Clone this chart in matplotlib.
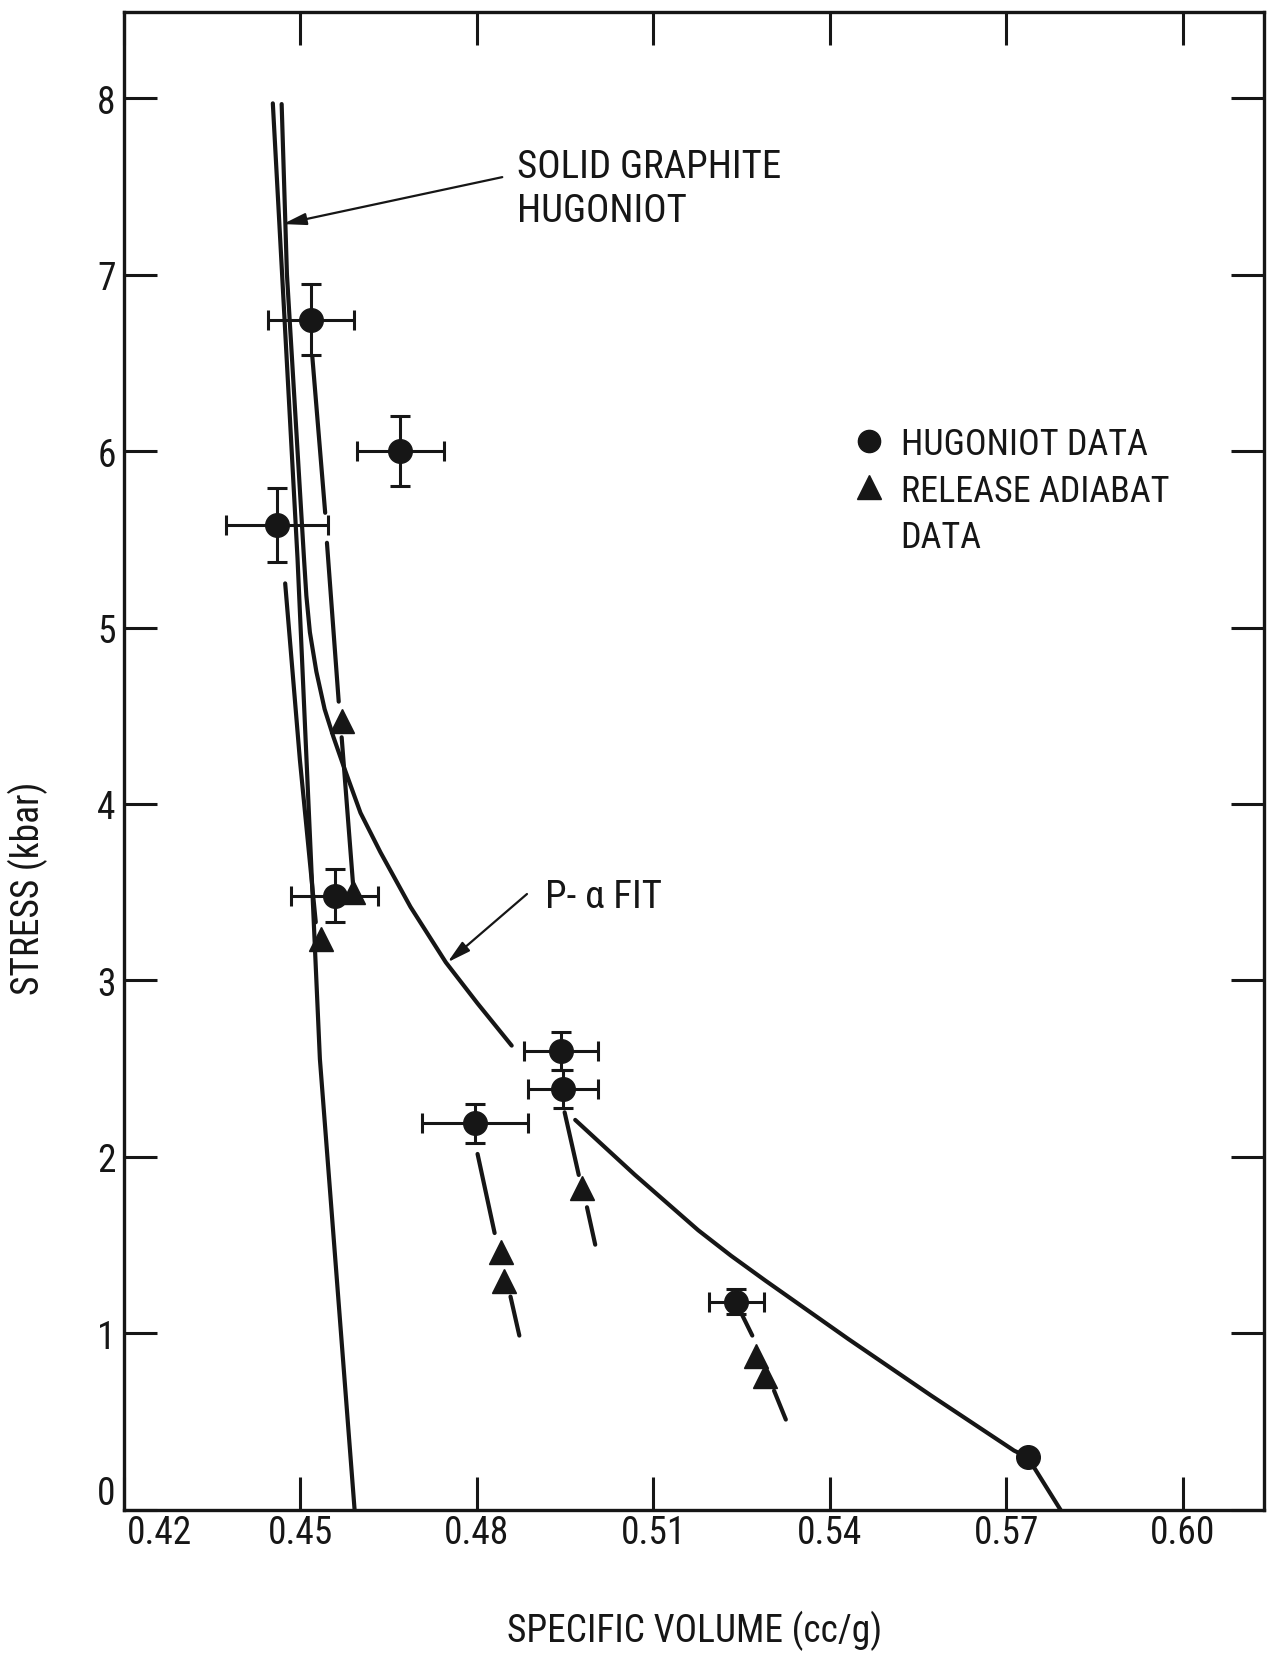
import matplotlib
matplotlib.use('Agg')
import matplotlib.pyplot as plt
import matplotlib.transforms as mtransforms

plt.rcParams['font.family'] = ['Liberation Sans Narrow', 'DejaVu Sans Condensed',
                               'Roboto Condensed', 'DejaVu Sans']
plt.rcParams['font.stretch'] = 'condensed'

INK = '#161616'
nan = float('nan')

# Hugoniot data points (specific volume cc/g, stress kbar) with error bars
hug_v = [0.4518, 0.4670, 0.4460, 0.4558, 0.4943, 0.4946, 0.4797, 0.5241, 0.5736]
hug_p = [6.745, 6.00, 5.58, 3.48, 2.60, 2.385, 2.19, 1.18, 0.30]
hug_dv = [0.0073, 0.0074, 0.0087, 0.0074, 0.0063, 0.0059, 0.0090, 0.0047, 0.0]
hug_dp = [0.20, 0.20, 0.21, 0.15, 0.11, 0.11, 0.11, 0.07, 0.0]

# release adiabat data points
rel_v = [0.4571, 0.4589, 0.4535, 0.4978, 0.4840, 0.4846, 0.5275, 0.5290]
rel_p = [4.47, 3.50, 3.235, 1.823, 1.46, 1.30, 0.874, 0.761]

# solid graphite Hugoniot
solid_v = [0.4453, 0.4495, 0.4533, 0.4592]
solid_p = [7.97, 5.39, 2.555, 0.0]

# P-alpha fit, upper and lower branches
pa_hi_v = [0.4468, 0.4477, 0.4506, 0.4510, 0.4516, 0.4527, 0.4541, 0.4556,
           0.4573, 0.4602, 0.4636, 0.4687, 0.4747, 0.4801, 0.4859]
pa_hi_p = [7.966, 7.0, 5.39, 5.18, 4.973, 4.75, 4.538, 4.38,
           4.217, 3.95, 3.726, 3.417, 3.103, 2.87, 2.631]
pa_lo_v = [0.4967, 0.5068, 0.5176, 0.5232, 0.5290, 0.5431, 0.5572, 0.5713,
           0.5736, 0.5792]
pa_lo_p = [2.21, 1.90, 1.585, 1.44, 1.30, 0.969, 0.648, 0.336, 0.299, 0.0]

# release paths (broken around the markers)
path_a_v = [0.4520, 0.4542, nan, 0.4545, 0.4565, nan, 0.4570, 0.4590]
path_a_p = [6.54, 5.65, nan, 5.48, 4.58, nan, 4.378, 3.518]
path_c_v = [0.4474, 0.4499, 0.4526]
path_c_p = [5.25, 4.25, 3.33]
path_g_v = [0.4801, 0.4830, nan, 0.4857, 0.4872]
path_g_p = [2.017, 1.569, nan, 1.209, 0.988]
path_f_v = [0.4949, 0.4973, nan, 0.4987, 0.5001]
path_f_p = [2.253, 1.898, nan, 1.715, 1.503]
path_h_v = [0.5250, 0.5268, nan, 0.5305, 0.5325]
path_h_p = [1.110, 0.988, nan, 0.676, 0.512]

xticks = [0.42, 0.45, 0.48, 0.51, 0.54, 0.57, 0.60]
xlabels = ['0.42', '0.45', '0.48', '0.51', '0.54', '0.57', '0.60']
yticks = [0, 1, 2, 3, 4, 5, 6, 7, 8]

fig = plt.figure(figsize=(12.69, 16.56), dpi=100)
ax = fig.add_axes([0.0977, 0.0876, 0.8980, 0.9048])
ax.set_xlim(0.42, 0.6137)
ax.set_ylim(0, 8.49)

for s in ax.spines.values():
    s.set_linewidth(2.4)
    s.set_color(INK)

ax.set_xticks(xticks, xlabels)
ax.set_yticks(yticks, [str(t) for t in yticks])
ax.tick_params(direction='in', length=24, width=2.2, top=True, right=True,
               labelsize=27, colors=INK)
ax.tick_params(axis='x', pad=3)
ax.tick_params(axis='y', pad=6)

# nudge the corner labels off the spines
lab = ax.get_xticklabels()[0]
lab.set_transform(lab.get_transform() +
                  mtransforms.ScaledTranslation(0.36, 0, fig.dpi_scale_trans))
lab = ax.get_yticklabels()[0]
lab.set_transform(lab.get_transform() +
                  mtransforms.ScaledTranslation(0, 0.20, fig.dpi_scale_trans))

line_kw = dict(color=INK, lw=3.0, solid_capstyle='round',
               solid_joinstyle='round', zorder=2)
ax.plot(solid_v, solid_p, **line_kw)
ax.plot(pa_hi_v, pa_hi_p, **line_kw)
ax.plot(pa_lo_v, pa_lo_p, **line_kw)
for pv, pp in [(path_a_v, path_a_p), (path_c_v, path_c_p), (path_g_v, path_g_p),
               (path_f_v, path_f_p), (path_h_v, path_h_p)]:
    ax.plot(pv, pp, **line_kw)

ax.errorbar(hug_v, hug_p, xerr=hug_dv, yerr=hug_dp, fmt='o', ms=17,
            color=INK, ecolor=INK, elinewidth=2.2, capsize=7.5, capthick=2.2,
            zorder=4)
ax.plot(rel_v, rel_p, '^', ms=17, color=INK, ls='none', zorder=4)

# key
ax.plot([0.5466], [6.058], 'o', ms=16, color=INK)
ax.plot([0.5466], [5.794], '^', ms=17, color=INK)
key_kw = dict(fontsize=26, color=INK, va='baseline')
ax.text(0.5520, 5.983, 'HUGONIOT DATA', **key_kw)
ax.text(0.5520, 5.718, 'RELEASE ADIABAT', **key_kw)
ax.text(0.5520, 5.454, 'DATA', **key_kw)

# callouts
arrow_kw = dict(arrowstyle='-|>,head_length=0.7,head_width=0.18',
                mutation_scale=20, color=INK, lw=1.6, shrinkA=0, shrinkB=0)
note_kw = dict(fontsize=28, color=INK, va='baseline')
ax.annotate('', xy=(0.4470, 7.286), xytext=(0.4843, 7.552), arrowprops=arrow_kw)
ax.text(0.4868, 7.551, 'SOLID GRAPHITE', **note_kw)
ax.text(0.4868, 7.305, 'HUGONIOT', **note_kw)
ax.annotate('', xy=(0.4750, 3.103), xytext=(0.4885, 3.49), arrowprops=arrow_kw)
ax.text(0.4916, 3.415, 'P- α FIT', **note_kw)

ax.set_xlabel('SPECIFIC VOLUME (cc/g)', fontsize=27, color=INK)
ax.xaxis.set_label_coords(0.501, -0.0667)
ax.set_ylabel('STRESS (kbar)', fontsize=27, color=INK)
ax.yaxis.set_label_coords(-0.0664, 0.4158)

fig.savefig('out.png', dpi=100)
